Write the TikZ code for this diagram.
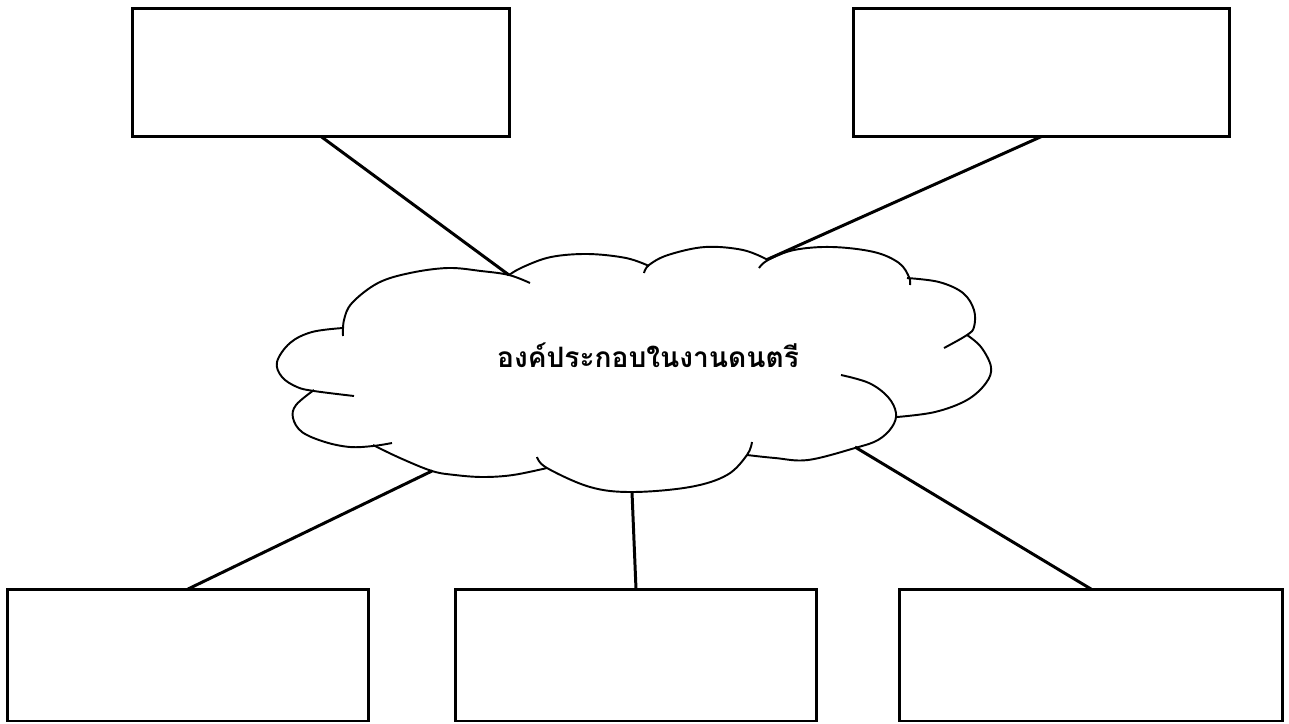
\documentclass[tikz,border=0pt]{standalone}
\usepackage{fontspec}
\newfontfamily\thaifont[Script=Thai]{Loma}
\tikzset{
  box/.style={draw, line width=1.7pt, inner sep=0pt, outer sep=0pt},
  link/.style={line width=1.7pt},
  puff/.style={line width=1.1pt, smooth, tension=0.6}
}
\begin{document}
\begin{tikzpicture}[x=0.02cm, y=-0.02cm]
\useasboundingbox (0,0) rectangle (1289,724);
% boxes
\node[box, minimum width=7.56cm, minimum height=2.56cm] (tl) at (321,72.5) {};
\node[box, minimum width=7.54cm, minimum height=2.56cm] (tr) at (1041.5,72.5) {};
\node[box, minimum width=7.24cm, minimum height=2.64cm] (bl) at (188,655) {};
\node[box, minimum width=7.24cm, minimum height=2.64cm] (bm) at (636,655) {};
\node[box, minimum width=7.68cm, minimum height=2.64cm] (br) at (1091,655) {};
% cloud
\draw[puff] plot coordinates {(343,336) (344,320) (352,303) (378,283) (410,273) (448,268) (481,271) (509,275) (530,283)};
\draw[puff] plot coordinates {(509,275) (523,267) (551,257) (588,254) (626,258) (649,266)};
\draw[puff] plot coordinates {(644,273) (649,265) (668,255) (705,247) (743,250) (768,260)};
\draw[puff] plot coordinates {(759,268) (768,260) (794,250) (832,247) (874,252) (899,263) (909,277) (910,285)};
\draw[puff] plot coordinates {(907,278) (939,282) (963,293) (974,310) (974,327) (967,335) (944,348)};
\draw[puff] plot coordinates {(967,335) (981,347) (991,367) (986,383) (967,400) (935,412) (897,417)};
\draw[puff] plot coordinates {(841,375) (869,383) (888,397) (896,413) (892,427) (878,440) (855,448) (808,460) (775,458) (747,455)};
\draw[puff] plot coordinates {(752,442) (747,455) (727,475) (690,487) (632,492) (590,487) (547,468) (537,457)};
\draw[puff] plot coordinates {(547,468) (513,475) (483,477) (455,475) (432,471) (400,458) (373,445)};
\draw[puff] plot coordinates {(314,390) (296,405) (293,418) (302,432) (325,442) (350,447) (373,446) (392,443)};
\draw[puff] plot coordinates {(343,328) (312,332) (290,343) (277,362) (282,377) (297,387) (314,391) (354,396)};
\node (title) at (648,355) {\thaifont\bfseries\fontsize{16}{18}\selectfont องค์ประกอบในงานดนตรี};
% connectors
\coordinate (ctl) at (509,275);
\coordinate (ctr) at (766,260);
\coordinate (cbl) at (432,471);
\coordinate (cbm) at (632,492);
\coordinate (cbr) at (855,447);
\draw[link] (tl.south) -- (ctl);
\draw[link] (tr.south) -- (ctr);
\draw[link] (bl.north) -- (cbl);
\draw[link] (bm.north) -- (cbm);
\draw[link] (br.north) -- (cbr);
\end{tikzpicture}
\end{document}
